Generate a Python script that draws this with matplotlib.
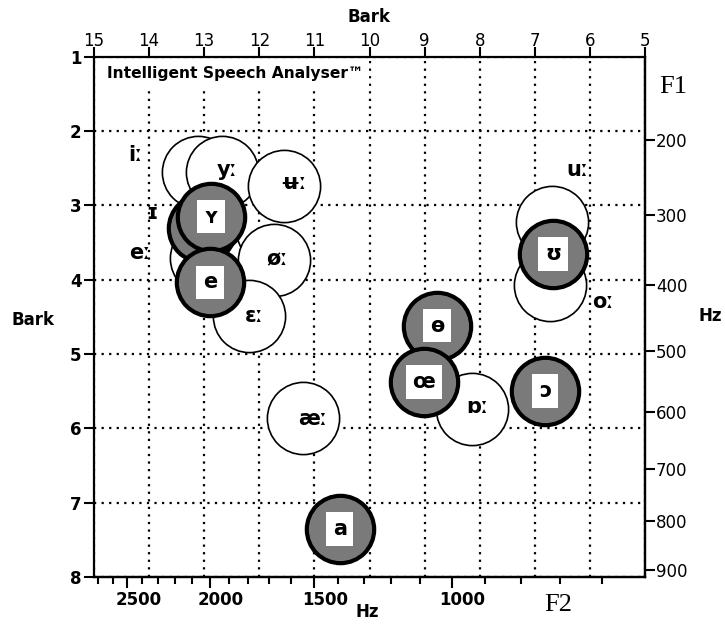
import numpy as np
import matplotlib
matplotlib.use("Agg")
import matplotlib.pyplot as plt
from matplotlib.transforms import ScaledTranslation

# ---------------- data (formant values in Hz) ----------------
long_labels = ["iː", "yː", "ʉː", "eː", "øː", "ɛː", "æː", "uː", "oː", "ɒː"]
long_f1 = [242, 242, 261, 361, 363, 446, 611, 310, 400, 595]
long_f2 = [2065, 1936, 1630, 2022, 1675, 1797, 1546, 720, 724, 938]

short_labels = ["ɪ", "ʏ", "e", "ʊ", "ɵ", "œ", "ɔ", "a"]
short_f1 = [319, 303, 396, 355, 461, 550, 565, 816]
short_f2 = [2043, 1995, 1999, 717, 1046, 1088, 738, 1393]

bark_ticks_x = [15, 14, 13, 12, 11, 10, 9, 8, 7, 6, 5]
bark_ticks_y = [1, 2, 3, 4, 5, 6, 7, 8]
hz_major_x = [1000, 1500, 2000, 2500]
hz_minor_x = [f for f in range(600, 2800, 100) if f not in hz_major_x]
hz_ticks_y = [200, 300, 400, 500, 600, 700, 800, 900]

# label offsets (points) for labels drawn beside their circles, layout only
long_offsets = [(-45, 12), (3.6, 1.4), (6.5, 2.2), (-47.5, 3.6), (2, 0),
                (4, 0), (7, -0.7), (18, 37.4), (38, -12), (3.6, 1.4)]
short_offsets = [(-36, 10.8), (0, 0), (0, 0), (0, 0), (0, 0), (0, 0), (0, 0), (0, 0)]


def hz_to_bark(f):
    return 7.0 * np.arcsinh(np.asarray(f, dtype=float) / 650.0)


def bark_to_hz(z):
    return 650.0 * np.sinh(np.asarray(z, dtype=float) / 7.0)


fig = plt.figure(figsize=(7.25, 6.25), dpi=100)
fig.patch.set_facecolor("white")
ax = fig.add_axes([94 / 725, 48 / 625, 551 / 725, 520.5 / 625])
ax.set_xlim(15, 5)
ax.set_ylim(8, 1)

for sp in ax.spines.values():
    sp.set_linewidth(1.6)

# Bark axes (top and left)
ax.xaxis.tick_top()
ax.set_xticks(bark_ticks_x, [str(t) for t in bark_ticks_x], fontsize=12)
ax.set_yticks(bark_ticks_y, [str(t) for t in bark_ticks_y], fontsize=12,
              fontweight="bold")
ax.tick_params(axis="both", direction="out", length=7, width=1.5, colors="black")
ax.tick_params(axis="x", pad=-2)
ax.tick_params(axis="y", pad=2)

# dotted grid
ax.grid(True, color="black", linewidth=1.6, linestyle=(0, (1, 2.4)))
ax.set_axisbelow(True)

# secondary Hz axes
secx = ax.secondary_xaxis("bottom", functions=(bark_to_hz, hz_to_bark))
secx.set_xticks(hz_major_x, [str(t) for t in hz_major_x], fontsize=12,
                fontweight="bold")
secx.set_xticks(hz_minor_x, minor=True)
secx.tick_params(axis="x", which="major", direction="out", length=8, width=1.5, pad=2)
secx.tick_params(axis="x", which="minor", direction="out", length=5, width=1.5)
secx.spines["bottom"].set_linewidth(1.6)
for lbl in secx.get_xticklabels():
    lbl.set_transform(lbl.get_transform() +
                      ScaledTranslation(8 / 72, 0, fig.dpi_scale_trans))

secy = ax.secondary_yaxis("right", functions=(bark_to_hz, hz_to_bark))
secy.set_yticks(hz_ticks_y, [str(t) for t in hz_ticks_y], fontsize=12)
secy.tick_params(axis="y", direction="out", length=7, width=1.5, pad=1)
secy.spines["right"].set_linewidth(1.6)

# circles
lx = hz_to_bark(long_f2)
ly = hz_to_bark(long_f1)
sx = hz_to_bark(short_f2)
sy = hz_to_bark(short_f1)

for i in range(len(long_labels)):
    ax.scatter([lx[i]], [ly[i]], s=52 ** 2, facecolor="white", edgecolor="black",
               linewidth=1.2, zorder=2 + i * 0.01)
for i in range(len(short_labels)):
    ax.scatter([sx[i]], [sy[i]], s=48.5 ** 2, facecolor="#7a7a7a", edgecolor="black",
               linewidth=3.0, zorder=3 + i * 0.01)

for i, lab in enumerate(long_labels):
    ax.annotate(lab, (lx[i], ly[i]), xytext=long_offsets[i], textcoords="offset points",
                ha="center", va="center", fontsize=15, fontweight="bold", zorder=6)

for i, lab in enumerate(short_labels):
    if short_offsets[i] != (0, 0):
        ax.annotate(lab, (sx[i], sy[i]), xytext=short_offsets[i],
                    textcoords="offset points", ha="center", va="center",
                    fontsize=15, fontweight="bold", zorder=6)
    else:
        ax.annotate(lab, (sx[i], sy[i]), ha="center", va="center", fontsize=15,
                    fontweight="bold", zorder=6,
                    bbox=dict(boxstyle="square,pad=0.32", fc="white", ec="none"))

# title inside plot
ax.text(0.024, 0.968, "Intelligent Speech Analyser™", transform=ax.transAxes,
        ha="left", va="center", fontsize=11.2, fontweight="bold", zorder=7,
        bbox=dict(boxstyle="square,pad=0.35", fc="white", ec="none"))

# axis captions
fig.text(369 / 725, 1 - 17 / 625, "Bark", ha="center", va="center", fontsize=12,
         fontweight="bold")
fig.text(33 / 725, 1 - 320 / 625, "Bark", ha="center", va="center", fontsize=12,
         fontweight="bold")
fig.text(367 / 725, 1 - 612 / 625, "Hz", ha="center", va="center", fontsize=12,
         fontweight="bold")
fig.text(710 / 725, 1 - 316 / 625, "Hz", ha="center", va="center", fontsize=12,
         fontweight="bold")
fig.text(673 / 725, 1 - 87 / 625, "F1", ha="center", va="center", fontsize=19,
         family="Liberation Serif")
fig.text(558 / 725, 1 - 605 / 625, "F2", ha="center", va="center", fontsize=19,
         family="Liberation Serif")

fig.savefig("out.png", dpi=100, facecolor="white")
